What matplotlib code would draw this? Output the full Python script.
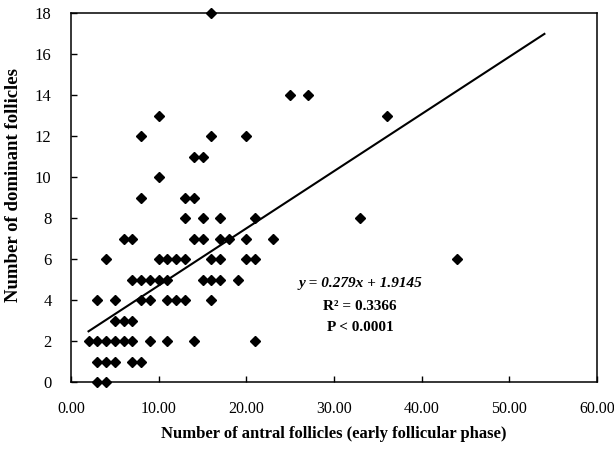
import matplotlib
matplotlib.use("Agg")
import matplotlib.pyplot as plt
import numpy as np

# Data: number of antral follicles (x) vs number of dominant follicles (y)
antral = [3, 4,
          3, 4, 5, 7, 8,
          2, 3, 4, 5, 6, 7, 9, 11, 14, 21,
          5, 6, 7,
          3, 5, 8, 9, 11, 12, 13, 16,
          7, 8, 9, 10, 11, 15, 16, 17, 19,
          4, 10, 11, 12, 13, 16, 17, 20, 21, 44,
          6, 7, 14, 15, 17, 18, 20, 23,
          13, 15, 17, 21, 33,
          8, 13, 14,
          10,
          14, 15,
          8, 16, 20,
          10, 36,
          25, 27,
          16]
dominant = [0, 0,
            1, 1, 1, 1, 1,
            2, 2, 2, 2, 2, 2, 2, 2, 2, 2,
            3, 3, 3,
            4, 4, 4, 4, 4, 4, 4, 4,
            5, 5, 5, 5, 5, 5, 5, 5, 5,
            6, 6, 6, 6, 6, 6, 6, 6, 6, 6,
            7, 7, 7, 7, 7, 7, 7, 7,
            8, 8, 8, 8, 8,
            9, 9, 9,
            10,
            11, 11,
            12, 12, 12,
            13, 13,
            14, 14,
            18]

slope = 0.279
intercept = 1.9145
trend_range = [2, 54]

x_ticks = [0, 10, 20, 30, 40, 50, 60]
x_ticklabels = ["0.00", "10.00", "20.00", "30.00", "40.00", "50.00", "60.00"]
y_ticks = [0, 2, 4, 6, 8, 10, 12, 14, 16, 18]

plt.rcParams['font.family'] = ['Liberation Serif', 'DejaVu Serif']

fig = plt.figure(figsize=(6.14, 4.49), dpi=100)
ax = fig.add_axes([71/614, 1-382/449, (597-71)/614, (382-13)/449])

ax.plot(antral, dominant, linestyle='none', marker='D', markersize=5.0,
        color='black', clip_on=False, zorder=3)

tx = np.array(trend_range, dtype=float)
ax.plot(tx, slope*tx + intercept, color='black', linewidth=1.5, zorder=2)

ax.set_xlim(0, 60)
ax.set_ylim(0, 18)
ax.set_xticks(x_ticks)
ax.set_xticklabels(x_ticklabels)
ax.set_yticks(y_ticks)

ax.tick_params(axis='both', direction='in', length=4, width=1, labelsize=11.5,
               colors='black')
ax.tick_params(axis='y', labelsize=12)
ax.tick_params(axis='x', pad=14)
ax.tick_params(axis='y', pad=14)
for s in ax.spines.values():
    s.set_linewidth(1.1)
    s.set_color('black')

ax.set_xlabel("Number of antral follicles (early follicular phase)",
              fontsize=12, fontweight='bold', labelpad=6)
ax.set_ylabel("Number of dominant follicles", fontsize=13.5, fontweight='bold')
ax.yaxis.set_label_coords(-0.093, 0.535)

ax.text(33, 4.8, "y = 0.279x + 1.9145", fontsize=11, fontweight='bold',
        fontstyle='italic', ha='center', va='center')
ax.text(33, 3.7, "R² = 0.3366", fontsize=11, fontweight='bold',
        ha='center', va='center')
ax.text(33, 2.65, "P < 0.0001", fontsize=11, fontweight='bold',
        ha='center', va='center')

fig.savefig("out.png", dpi=100)
